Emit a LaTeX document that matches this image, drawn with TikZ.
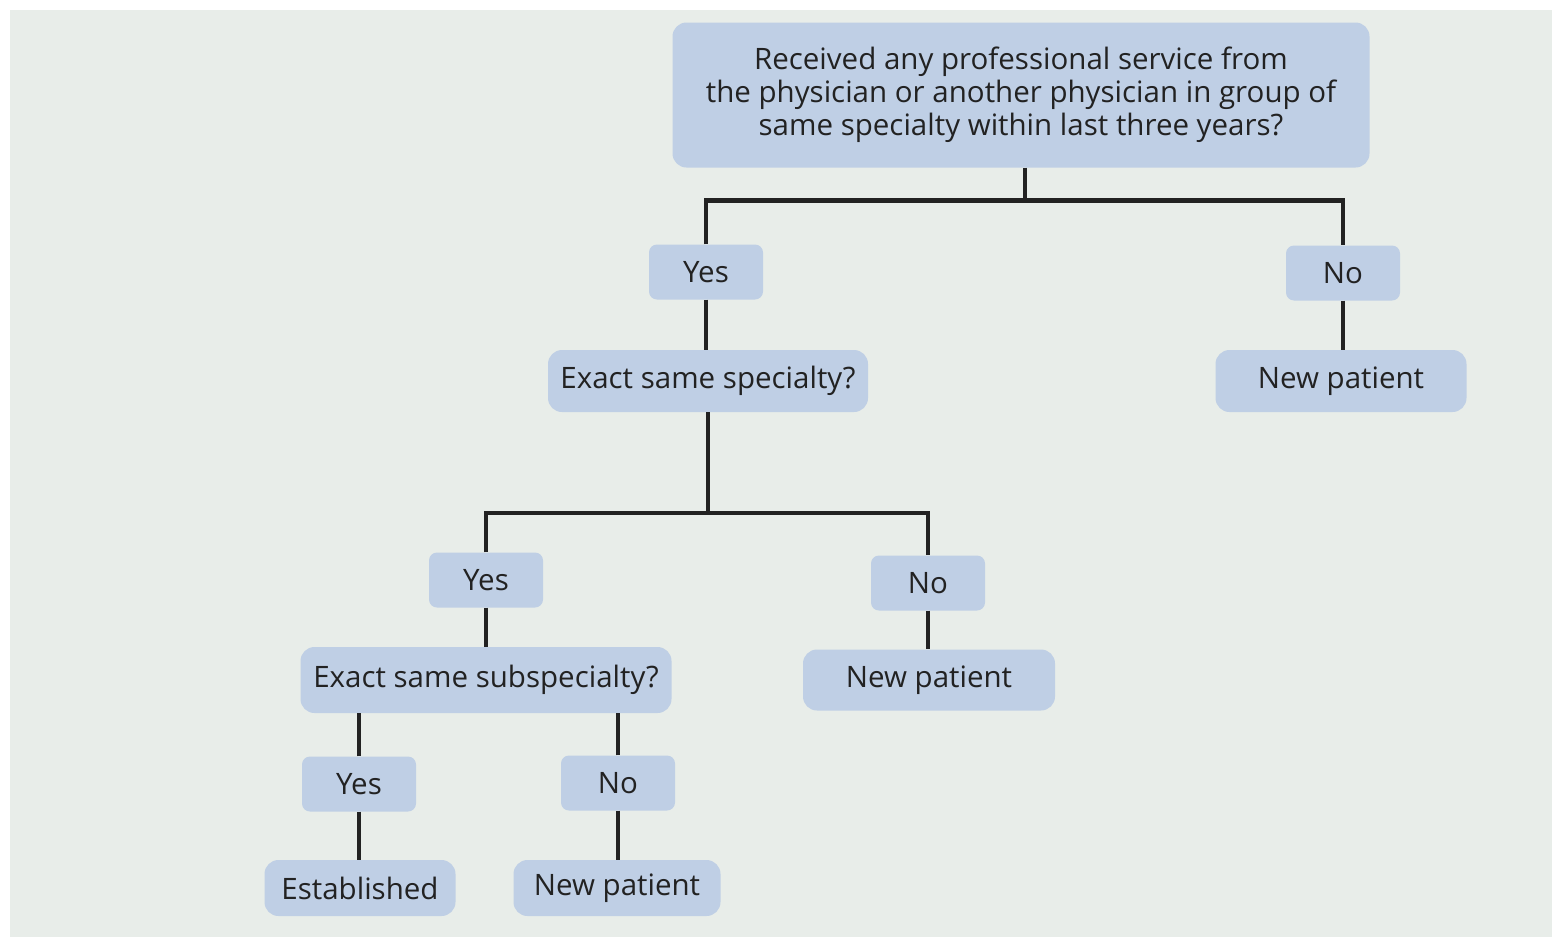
\documentclass[tikz,border=0pt]{standalone}
\usepackage{fontspec}
\setmainfont{Open Sans}
\usetikzlibrary{calc}
\definecolor{pagebg}{HTML}{E8EDE9}
\definecolor{boxblue}{HTML}{BFCFE5}
\definecolor{inkdark}{HTML}{222222}
\tikzset{
  box/.style={rectangle, rounded corners=14pt, fill=boxblue, text=inkdark,
    inner sep=0pt, align=center, font=\fontsize{29.5}{33}\selectfont},
  answer/.style={box, rounded corners=8pt, minimum width=114pt, minimum height=55pt},
  link/.style={draw=inkdark, line width=4.5pt}
}
\begin{document}
\begin{tikzpicture}[x=1pt, y=-1pt]
  % Page
  \useasboundingbox (0,0) rectangle (1552,937);
  \fill[pagebg] (10,10) rectangle (1552,937);
  % Question
  \node[box, minimum width=697pt, minimum height=145pt] (top) at (1021,95)
    {Received any professional service from\\the physician or another physician in group of\\same specialty within last three years?};
  \node[answer] (yes1) at (706,272) {Yes};
  \node[answer] (no1) at (1343,273) {No};
  \node[box, minimum width=320pt, minimum height=62pt] (spec) at (708,381) {Exact same specialty?};
  \node[box, minimum width=251pt, minimum height=62pt] (new1) at (1341,381) {New patient};
  % Specialty
  \node[answer] (yes2) at (486,580) {Yes};
  \node[answer] (no2) at (928,583) {No};
  \node[box, minimum width=371pt, minimum height=66pt] (sub) at (486,680) {Exact same subspecialty?};
  \node[box, minimum width=252pt, minimum height=61pt] (new2) at (929,680) {New patient};
  % Subspecialty
  \node[answer] (yes3) at (359,784) {Yes};
  \node[answer] (no3) at (618,783) {No};
  \node[box, minimum width=191pt, minimum height=56pt] (est) at (360,888) {Established};
  \node[box, minimum width=207pt, minimum height=56pt] (new3) at (617,888) {New patient};
  % Connectors
  \coordinate (j1) at ($(top.south)+(4,33)$);
  \draw[link] (top.south -| j1) -- (j1);
  \draw[link] (yes1.north) |- (j1) -| (no1.north);
  \draw[link] (yes1.south) -- (yes1.south |- spec.north);
  \draw[link] (no1.south) -- (no1.south |- new1.north);
  \coordinate (j2) at ($(spec.south)+(0,101)$);
  \draw[link] (spec.south) -- (j2);
  \draw[link] (yes2.north) |- (j2) -| (no2.north);
  \draw[link] (yes2.south) -- (yes2.south |- sub.north);
  \draw[link] (no2.south) -- (no2.south |- new2.north);
  \draw[link] (yes3.north) -- (yes3.north |- sub.south);
  \draw[link] (no3.north) -- (no3.north |- sub.south);
  \draw[link] (yes3.south) -- (yes3.south |- est.north);
  \draw[link] (no3.south) -- (no3.south |- new3.north);
\end{tikzpicture}
\end{document}
